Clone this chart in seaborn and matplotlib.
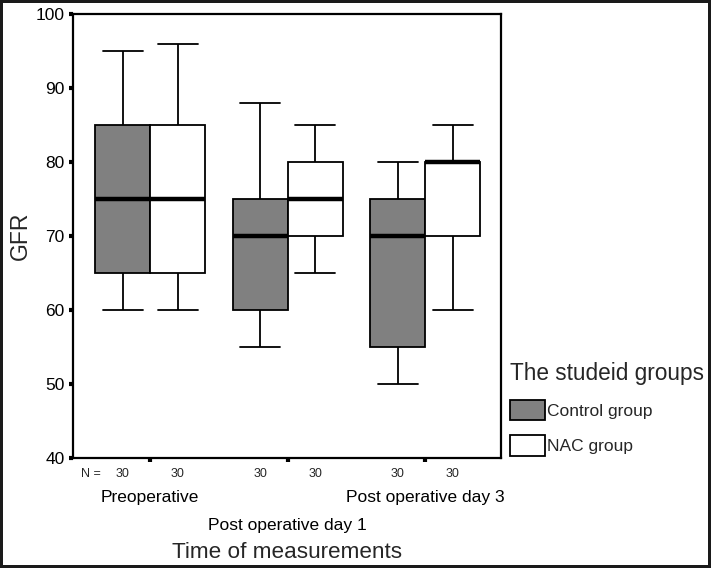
import pandas as pd
import matplotlib
matplotlib.use("Agg")
import matplotlib.pyplot as plt
import seaborn as sns

# five-number summaries: min, Q1, median, Q3, max
times = ["Preoperative", "Post operative day 1", "Post operative day 3"]
groups = ["Control group", "NAC group"]
control_stats = [
    [60, 65, 75, 85, 95],
    [55, 60, 70, 75, 88],
    [50, 55, 70, 75, 80],
]
nac_stats = [
    [60, 65, 75, 85, 96],
    [65, 70, 75, 80, 85],
    [60, 70, 80, 80, 85],
]
n_counts = [30, 30, 30, 30, 30, 30]

rows = []
for t, c, n in zip(times, control_stats, nac_stats):
    for v in c:
        rows.append({"Time": t, "Group": "Control group", "GFR": v})
    for v in n:
        rows.append({"Time": t, "Group": "NAC group", "GFR": v})
df = pd.DataFrame(rows)

sns.set_style("white")
plt.rcParams["font.family"] = ["Liberation Sans", "DejaVu Sans"]

fig = plt.figure(figsize=(7.11, 5.68), dpi=100, linewidth=3, edgecolor="#1a1a1a")
ax = fig.add_axes([0.1027, 0.1937, 0.602, 0.7817])

sns.boxplot(data=df, x="Time", y="GFR", hue="Group", order=times, hue_order=groups,
            palette={"Control group": "#808080", "NAC group": "white"},
            saturation=1, whis=(0, 100), width=0.8, linecolor="black", linewidth=1.3,
            medianprops={"linewidth": 3.2, "color": "black"},
            capwidths=0.29, ax=ax)

ax.set_ylim(40, 100)
ax.set_xlim(-0.56, 2.55)
ax.set_yticks([40, 50, 60, 70, 80, 90, 100])
ax.tick_params(axis="y", left=True, labelsize=12.5, direction="out", length=3, width=3, pad=3, colors="black")

# staggered category labels: outer ones as major ticks, middle one as a minor tick further down
ax.set_xticks([0, 2])
ax.set_xticklabels([times[0], times[2]])
ax.set_xticks([1], minor=True)
ax.set_xticklabels([times[1]], minor=True)
ax.tick_params(axis="x", which="major", bottom=True, labelsize=12.5, direction="out",
               length=3, width=3, pad=20, colors="black")
ax.tick_params(axis="x", which="minor", bottom=True, labelsize=12.5, direction="out",
               length=3, width=3, pad=40, colors="black")
for s in ax.spines.values():
    s.set_visible(True)
    s.set_color("black")
    s.set_linewidth(1.6)

ax.set_ylabel("GFR", fontsize=16.5, labelpad=3)
ax.set_xlabel("Time of measurements", fontsize=16.2, va="center")
ax.xaxis.set_label_coords(0.5, -0.212)

# N counts under each box
trans = ax.get_xaxis_transform()
ax.text(-0.43, -0.037, "N =", transform=trans, ha="center", va="center", fontsize=9)
k = 0
for i in range(len(times)):
    for off in (-0.2, 0.2):
        ax.text(i + off, -0.037, str(n_counts[k]), transform=trans, ha="center", va="center", fontsize=9)
        k += 1

handles, labels = ax.get_legend_handles_labels()
leg = ax.legend(handles, labels, title="The studeid groups", loc="upper left",
                bbox_to_anchor=(1.005, 0.232), frameon=False, fontsize=12.5,
                title_fontsize=16.3, handlelength=2.0, handleheight=1.45,
                handletextpad=0.15, labelspacing=0.85, borderaxespad=0)
leg._legend_box.align = "left"
for h in leg.legend_handles:
    h.set_edgecolor("black")
    h.set_linewidth(1.3)

fig.savefig("out.png", dpi=100)
